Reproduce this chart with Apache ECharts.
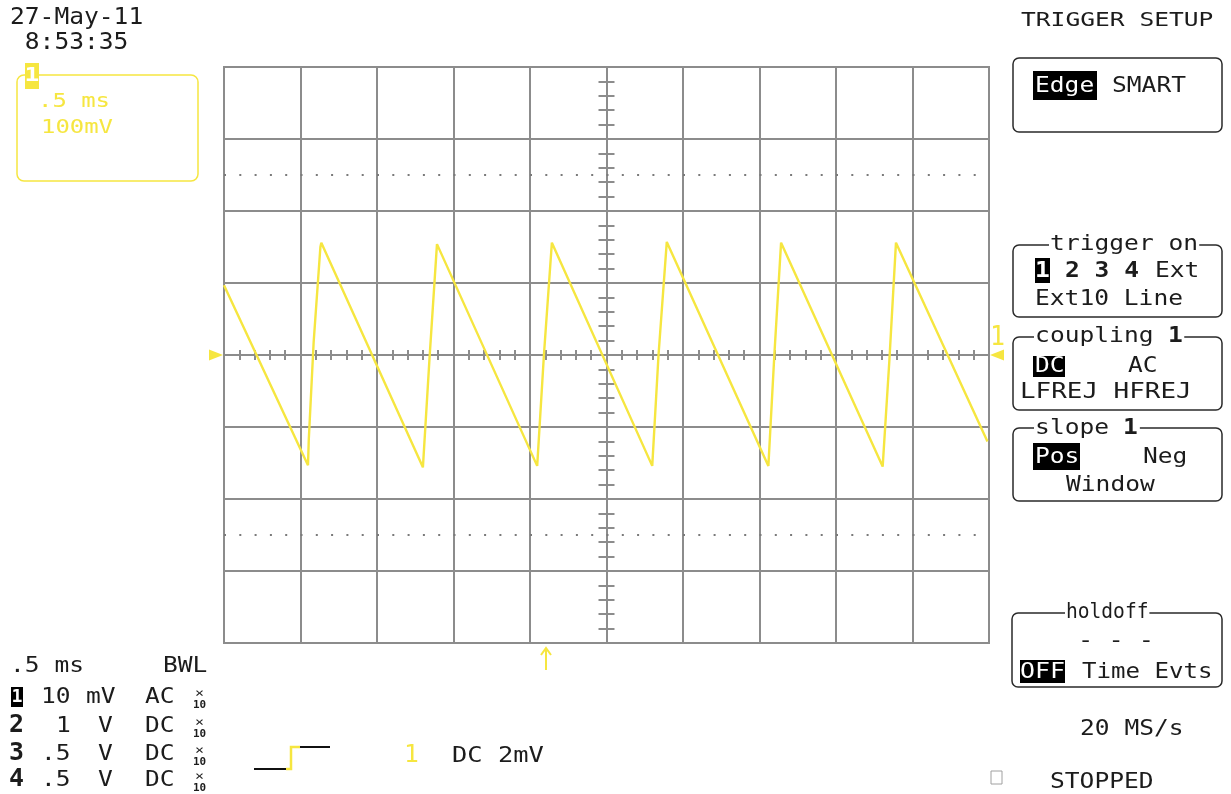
<!DOCTYPE html>
<html>
<head>
<meta charset="utf-8">
<script src="https://cdn.jsdelivr.net/npm/echarts@6/dist/echarts.min.js"></script>
<style>
  html, body { margin: 0; padding: 0; background: #fff; }
  #chart { width: 1231px; height: 794px; }
</style>
</head>
<body>
<div id="chart"></div>
<script>
// ---- data (time in ms, trace in mV) ----
const timeMs  = [-2.5, -1.951, -1.946, -1.914, -1.870, -1.864, -1.200, -1.156, -1.108, -0.453, -0.409, -0.357, 0.299, 0.340, 0.394, 1.058, 1.097, 1.141, 1.805, 1.849, 1.892, 2.49];
const traceMv = [97, -153, -118, 18, 150, 156, -156, -2, 154, -154, 0, 156, -154, 0, 157, -154, 0, 156, -155, -7, 156, -120];
const dottedLevelsMv = [250, -250];
const xRange = [-2.5, 2.5];   // 0.5 ms/div
const yRange = [-400, 400];   // 100 mV/div

const channelRows = [
  { ch: '1', volts: '10', unit: 'mV', coupling: 'AC' },
  { ch: '2', volts: '1',  unit: 'V',  coupling: 'DC' },
  { ch: '3', volts: '.5', unit: 'V',  coupling: 'DC' },
  { ch: '4', volts: '.5', unit: 'V',  coupling: 'DC' }
];

const Y = '#f6e640';
const GRID = '#8c8c8c';
const INK = '#1c1c1c';
const F = '"DejaVu Sans Mono", monospace';

function T(x, y, s, o) {
  o = o || {};
  const size = o.size || 22, pitch = o.pitch || 14.8;
  const st = {
    text: s,
    font: (o.bold ? 'bold ' : '') + size + 'px ' + F,
    fill: o.fill || INK,
    align: o.align || 'left',
    verticalAlign: 'middle',
    textAlign: o.align || 'left',
    textVerticalAlign: 'middle'
  };
  if (o.bg) { st.backgroundColor = o.bg; st.padding = [0, 1]; }
  return { type: 'text', x: x, y: y, scaleX: pitch / (0.602 * size), z: o.z || 10, style: st };
}
function R(x, y, w, h, o) {
  o = o || {};
  return { type: 'rect', z: o.z || 5, shape: { x: x, y: y, width: w, height: h, r: o.r || 0 },
    style: { fill: o.fill || 'none', stroke: o.stroke || null, lineWidth: o.lw || 1.5 } };
}
function P(points, color, lw) {
  return { type: 'polyline', z: 6, shape: { points: points }, style: { stroke: color, lineWidth: lw || 2, fill: null } };
}

const data = timeMs.map((t, i) => [t, traceMv[i]]);

const graphics = [];
// top-left date/time
graphics.push(T(10, 18, '27-May-11', { size: 23 }));
graphics.push(T(10, 43, ' 8:53:35', { size: 23 }));
// yellow channel box
graphics.push(R(17, 75, 181, 106, { stroke: Y, r: 7, lw: 1.5 }));
graphics.push(R(25, 63, 14, 26, { fill: Y, z: 7 }));
graphics.push(T(32, 76, '1', { bold: true, fill: '#fff', align: 'center', size: 20, z: 11 }));
graphics.push(T(38, 102, '.5 ms', { size: 19, pitch: 14.4, fill: Y }));
graphics.push(T(41, 128, '100mV', { size: 19, pitch: 14.4, fill: Y }));

// right panel
graphics.push(T(1021, 21, 'TRIGGER SETUP', { size: 20, pitch: 14.8 }));
graphics.push(R(1013, 58, 209, 74, { stroke: '#2a2a2a', r: 6 }));
graphics.push(R(1033, 71, 64, 29, { fill: '#000' }));
graphics.push(T(1035, 86, 'Edge', { fill: '#fff' }));
graphics.push(T(1112, 86, 'SMART'));

graphics.push(R(1013, 245, 209, 72, { stroke: '#2a2a2a', r: 6 }));
graphics.push(T(1049, 244, 'trigger on', { bg: '#fff' }));
graphics.push(R(1035, 258, 15, 25, { fill: '#000' }));
graphics.push(T(1042.5, 271, '1', { bold: true, fill: '#fff', align: 'center' }));
graphics.push(T(1065, 271, '2 3 4', { bold: true }));
graphics.push(T(1155, 271, 'Ext'));
graphics.push(T(1035, 299, 'Ext10 Line'));

graphics.push(R(1013, 337, 209, 73, { stroke: '#2a2a2a', r: 6 }));
graphics.push(T(1034, 336, 'coupling  ', { bg: '#fff' }));
graphics.push(T(1168, 336, '1', { bold: true, z: 12 }));
graphics.push(R(1033, 356, 32, 21, { fill: '#000' }));
graphics.push(T(1035, 366, 'DC', { fill: '#fff' }));
graphics.push(T(1128, 366, 'AC'));
graphics.push(T(1020, 392, 'LFREJ HFREJ', { pitch: 15.6 }));

graphics.push(R(1013, 428, 209, 73, { stroke: '#2a2a2a', r: 6 }));
graphics.push(T(1034, 428, 'slope  ', { bg: '#fff' }));
graphics.push(T(1123, 428, '1', { bold: true, z: 12 }));
graphics.push(R(1033, 443, 47, 27, { fill: '#000' }));
graphics.push(T(1035, 457, 'Pos', { fill: '#fff' }));
graphics.push(T(1143, 457, 'Neg'));
graphics.push(T(1066, 485, 'Window'));

graphics.push(R(1012, 613, 210, 74, { stroke: '#2a2a2a', r: 6 }));
graphics.push(T(1065, 612, 'holdoff', { bg: '#fff', pitch: 11.8 }));
graphics.push(T(1078, 641, '- - -', { pitch: 15.2 }));
graphics.push(R(1020, 660, 45, 23, { fill: '#000' }));
graphics.push(T(1020, 672, 'OFF', { fill: '#fff', pitch: 15 }));
graphics.push(T(1082, 672, 'Time Evts', { pitch: 14.5 }));
graphics.push(T(1080, 729, '20 MS/s'));
graphics.push(R(991, 771, 11, 13, { stroke: '#a0a0a0', lw: 1 }));
graphics.push(T(1050, 782, 'STOPPED'));

// bottom-left channel table
graphics.push(T(10, 666, '.5 ms'));
graphics.push(T(163, 666, 'BWL'));
const rowY = [697, 726, 754, 780];
channelRows.forEach((r, i) => {
  const y = rowY[i];
  if (i === 0) {
    graphics.push(R(11, y - 10, 12, 20, { fill: '#000' }));
    graphics.push(T(17, y, r.ch, { bold: true, fill: '#fff', align: 'center', size: 18, pitch: 11 }));
  } else {
    graphics.push(T(9, y, r.ch, { bold: true, size: 24, pitch: 15 }));
  }
  const vx = r.volts === '1' ? 56 : 41;
  graphics.push(T(vx, y, r.volts));
  graphics.push(T(r.unit === 'mV' ? 86 : 98, y, r.unit));
  graphics.push(T(145, y, r.coupling));
  graphics.push(T(199.5, y - 3, '×', { size: 12, pitch: 9, align: 'center' }));
  graphics.push(T(199.5, y + 8, '10', { size: 11, pitch: 6.6, bold: true, align: 'center' }));
});

// bottom-middle trigger symbol and label
graphics.push(P([[254, 769], [286, 769]], '#111', 2));
graphics.push(P([[286, 769], [291, 769], [291, 747], [300, 747]], Y, 2.5));
graphics.push(P([[300, 747], [330, 747]], '#111', 2));
graphics.push(T(404, 756, '1', { fill: Y, size: 24 }));
graphics.push(T(452, 756, 'DC 2mV', { pitch: 15.3 }));
// trigger position arrow
graphics.push(P([[546, 670], [546, 649]], Y, 2));
graphics.push(P([[541, 655], [546, 648], [551, 655]], Y, 2));
// trigger level markers
graphics.push({ type: 'polygon', z: 6, shape: { points: [[209, 349.5], [223, 355], [209, 360.5]] }, style: { fill: Y } });
graphics.push({ type: 'polygon', z: 6, shape: { points: [[990, 355], [1004, 349.5], [1004, 360.5]] }, style: { fill: Y } });
graphics.push(T(990, 338, '1', { fill: Y, size: 27, pitch: 15 }));

const lineStyle = { color: GRID, width: 2 };
const baseX = {
  type: 'value', min: xRange[0], max: xRange[1], interval: 0.5,
  axisLabel: { show: false }, axisTick: { show: false },
  axisLine: { show: true, onZero: true, onZeroAxisIndex: 0, lineStyle: lineStyle },
  minorTick: { show: true, splitNumber: 5, length: 5, lineStyle: lineStyle }
};
const baseY = {
  type: 'value', min: yRange[0], max: yRange[1], interval: 100,
  axisLabel: { show: false }, axisTick: { show: false },
  axisLine: { show: true, onZero: true, onZeroAxisIndex: 0, lineStyle: lineStyle },
  minorTick: { show: true, splitNumber: 5, length: 8, lineStyle: lineStyle }
};

const option = {
  animation: false,
  backgroundColor: '#fff',
  grid: { left: 224, top: 67, width: 765, height: 576, show: true, borderColor: GRID, borderWidth: 2, containLabel: false },
  xAxis: [
    Object.assign({}, baseX, { position: 'bottom', splitLine: { show: true, lineStyle: lineStyle } }),
    Object.assign({}, baseX, { position: 'top', splitLine: { show: false } })
  ],
  yAxis: [
    Object.assign({}, baseY, { position: 'left', splitLine: { show: true, lineStyle: lineStyle } }),
    Object.assign({}, baseY, { position: 'right', splitLine: { show: false } })
  ],
  series: [{
    type: 'line',
    xAxisIndex: 0, yAxisIndex: 0,
    data: data,
    showSymbol: false,
    symbol: 'none',
    lineStyle: { color: Y, width: 2.4 },
    itemStyle: { color: Y },
    z: 3,
    silent: true,
    markLine: {
      silent: true, symbol: 'none', label: { show: false },
      lineStyle: { color: '#7a7a7a', width: 2, type: [2, 13.3] },
      emphasis: { disabled: true },
      data: dottedLevelsMv.map(v => ({ yAxis: v }))
    }
  }],
  graphic: graphics
};

const chart = echarts.init(document.getElementById('chart'), null, { renderer: 'canvas' });
chart.setOption(option);
</script>
</body>
</html>
